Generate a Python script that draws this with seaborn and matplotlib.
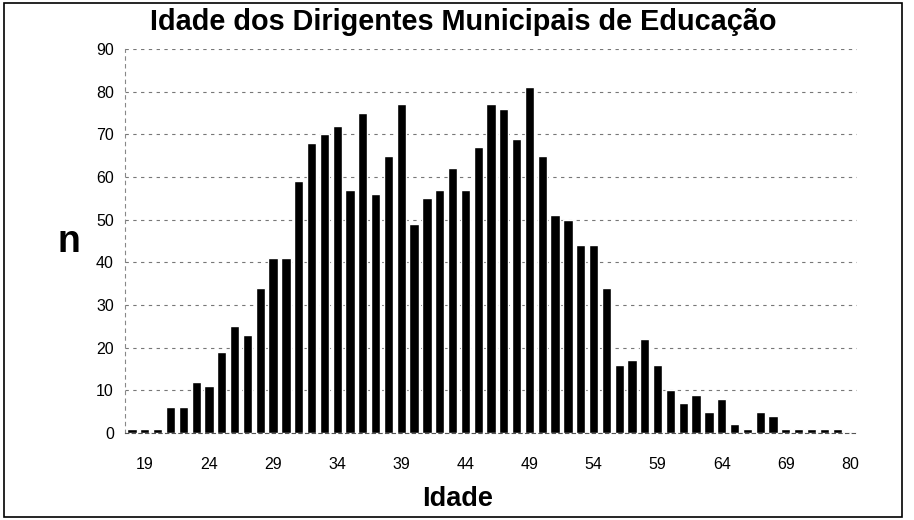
import pandas as pd
import matplotlib.pyplot as plt
import seaborn as sns
from matplotlib.patches import Rectangle

# --- Dados ---
IDADES = list(range(18, 74)) + [80]
CONTAGENS = [1, 1, 1, 6, 6, 12, 11, 19, 25, 23,      # 18-27
             34, 41, 41, 59, 68, 70, 72, 57, 75, 56,  # 28-37
             65, 77, 49, 55, 57, 62, 57, 67, 77, 76,  # 38-47
             69, 81, 65, 51, 50, 44, 44, 34, 16, 17,  # 48-57
             22, 16, 10, 7, 9, 5, 8, 2, 1, 5,         # 58-67
             4, 1, 1, 1, 1, 1,                         # 68-73
             0]                                        # 80
ROTULOS_X = ["19", "24", "29", "34", "39", "44", "49", "54", "59", "64", "69", "80"]
ROTULOS_Y = list(range(0, 91, 10))

TITULO = "Idade dos Dirigentes Municipais de Educação"

df = pd.DataFrame({"Idade": [str(i) for i in IDADES], "n": CONTAGENS})

sns.set_style("white")
plt.rcParams["font.family"] = ["Liberation Sans", "DejaVu Sans"]
plt.rcParams["text.color"] = "black"
plt.rcParams["xtick.color"] = "black"
plt.rcParams["ytick.color"] = "black"

fig = plt.figure(figsize=(9.14, 5.2), dpi=100)
ax = fig.add_axes([125 / 914, 87 / 520, 732 / 914, 384 / 520])

sns.barplot(data=df, x="Idade", y="n", order=df["Idade"], color="black",
            width=0.72, saturation=1, ax=ax)

# eixo y e grade tracejada
ax.set_ylim(0, 90)
ax.set_yticks(ROTULOS_Y)
ax.set_yticklabels([str(v) for v in ROTULOS_Y], fontsize=11.5)
ax.yaxis.grid(True, color="#777777", linestyle=(0, (3, 4)), linewidth=0.8)
ax.set_axisbelow(True)

# eixo x: rótulos a cada 5 categorias
posicoes = [IDADES.index(int(r)) for r in ROTULOS_X]
ax.set_xticks(posicoes)
ax.set_xticklabels(ROTULOS_X, fontsize=11.5)
ax.set_xlim(-0.55, len(IDADES) - 0.45)
ax.tick_params(axis="x", length=0, pad=17)
ax.tick_params(axis="y", length=0, pad=8)

for lado in ["top", "right"]:
    ax.spines[lado].set_visible(False)
ax.spines["left"].set_color("#888888")
ax.spines["left"].set_linestyle((0, (3, 4)))
ax.spines["left"].set_linewidth(0.8)
ax.spines["bottom"].set_color("#555555")
ax.spines["bottom"].set_linestyle((0, (3, 3)))
ax.spines["bottom"].set_linewidth(0.8)

ax.set_xlabel("")
ax.set_ylabel("")

fig.text(463 / 914, 1 - 22 / 520, TITULO, ha="center", va="center",
         fontsize=20.8, fontweight="bold")
fig.text(458 / 914, 1 - 499 / 520, "Idade", ha="center", va="center",
         fontsize=19.5, fontweight="bold")
fig.text(69 / 914, 1 - 242 / 520, "n", ha="center", va="center",
         fontsize=27, fontweight="bold")

# moldura externa do gráfico
fig.patches.append(Rectangle((4 / 914, 3 / 520), 898 / 914, 514 / 520,
                             transform=fig.transFigure, fill=False,
                             edgecolor="black", linewidth=1.2))

fig.savefig("out.png", dpi=100)
